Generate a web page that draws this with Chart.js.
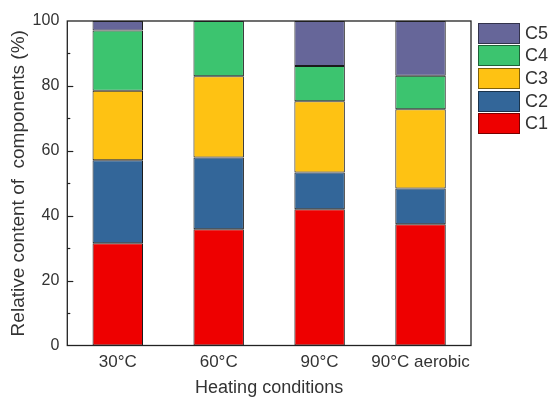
<!DOCTYPE html>
<html>
<head>
<meta charset="utf-8">
<script src="https://cdn.jsdelivr.net/npm/chart.js@4.4.0/dist/chart.umd.min.js"></script>
<style>
  html, body { margin: 0; padding: 0; background: #fff; }
  #wrap { position: relative; width: 549px; height: 399px; }
  #legend { position: absolute; left: 478px; top: 22px; font-family: "Liberation Sans", Arial, sans-serif; font-size: 18px; color: #333; }
  .item { display: flex; align-items: center; height: 22.6px; }
  .swatch { width: 40px; height: 19px; border: 1px solid rgba(0,0,0,0.5); box-sizing: content-box; margin-right: 5px; }
</style>
</head>
<body>
<div id="wrap">
  <canvas id="chart" width="549" height="399"></canvas>
  <div id="legend"></div>
</div>
<script>
// Heating conditions on the x axis
const conditions = ['30°C', '60°C', '90°C', '90°C aerobic'];

// Relative content (%) of each component per condition
const c1 = [31.5, 35.8, 42.0, 37.4];
const c2 = [25.6, 22.1, 11.3, 11.0];
const c3 = [21.4, 25.1, 22.0, 24.4];
const c4 = [18.6, 17.0, 10.8, 10.3];
const c5 = [2.9, 0, 13.9, 16.9];

const componentNames = ['C1', 'C2', 'C3', 'C4', 'C5'];
const componentColors = ['#ee0000', '#336699', '#fec213', '#3cc46f', '#666699'];
const yTicks = [0, 20, 40, 60, 80, 100];

const FONT = '"Liberation Sans", Arial, sans-serif';

const series = [c1, c2, c3, c4, c5];
const datasets = series.map((values, i) => ({
    label: componentNames[i],
    data: values,
    backgroundColor: componentColors[i],
    borderColor: '#1a1a1a',
    borderWidth: 1,
    borderSkipped: false,
    barPercentage: 0.5,
    categoryPercentage: 1.0
}));

// Frame around the plot plus inward major/minor ticks on the y axis
const framePlugin = {
    id: 'frame',
    afterDatasetsDraw(chart) {
        const { ctx, chartArea } = chart;
        const y = chart.scales.y;
        ctx.save();
        ctx.strokeStyle = '#222';
        ctx.lineWidth = 1.3;
        ctx.strokeRect(chartArea.left, chartArea.top, chartArea.right - chartArea.left, chartArea.bottom - chartArea.top);
        ctx.lineWidth = 1.2;
        for (let v = 10; v < 100; v += 10) {
            const py = Math.round(y.getPixelForValue(v)) + 0.5;
            const len = v % 20 === 0 ? 6 : 3;
            ctx.beginPath();
            ctx.moveTo(chartArea.left, py);
            ctx.lineTo(chartArea.left + len, py);
            ctx.stroke();
        }
        ctx.restore();
    }
};

new Chart(document.getElementById('chart'), {
    type: 'bar',
    data: { labels: conditions, datasets: datasets },
    options: {
        responsive: false,
        animation: false,
        layout: { padding: { top: 21, right: 78, left: 0, bottom: 0 } },
        plugins: {
            legend: { display: false },
            tooltip: { enabled: false }
        },
        scales: {
            x: {
                stacked: true,
                grid: { display: false, drawTicks: false },
                border: { display: false },
                ticks: {
                    color: '#333',
                    padding: 7,
                    maxRotation: 0,
                    autoSkip: false,
                    font: { family: FONT, size: 17 }
                },
                title: {
                    display: true,
                    text: 'Heating conditions',
                    color: '#333',
                    padding: { top: 0, bottom: 0 },
                    font: { family: FONT, size: 18 }
                },
                afterFit(scale) { scale.height = 53.5; }
            },
            y: {
                stacked: true,
                min: 0,
                max: 100,
                grid: { display: false, drawTicks: false },
                border: { display: false },
                afterBuildTicks(scale) {
                    scale.ticks = yTicks.map(v => ({ value: v }));
                },
                ticks: {
                    color: '#333',
                    padding: 8,
                    font: { family: FONT, size: 16 }
                },
                title: {
                    display: true,
                    text: 'Relative content of  components (%)',
                    color: '#333',
                    padding: { top: 7, bottom: 0 },
                    font: { family: FONT, size: 19 }
                },
                afterFit(scale) { scale.width = 67.3; }
            }
        }
    },
    plugins: [framePlugin]
});

// Legend, top entry is the top of the stack
const legend = document.getElementById('legend');
for (let i = componentNames.length - 1; i >= 0; i--) {
    const item = document.createElement('div');
    item.className = 'item';
    item.innerHTML = '<span class="swatch" style="background:' + componentColors[i] + '"></span>' + componentNames[i];
    legend.appendChild(item);
}
</script>
</body>
</html>
